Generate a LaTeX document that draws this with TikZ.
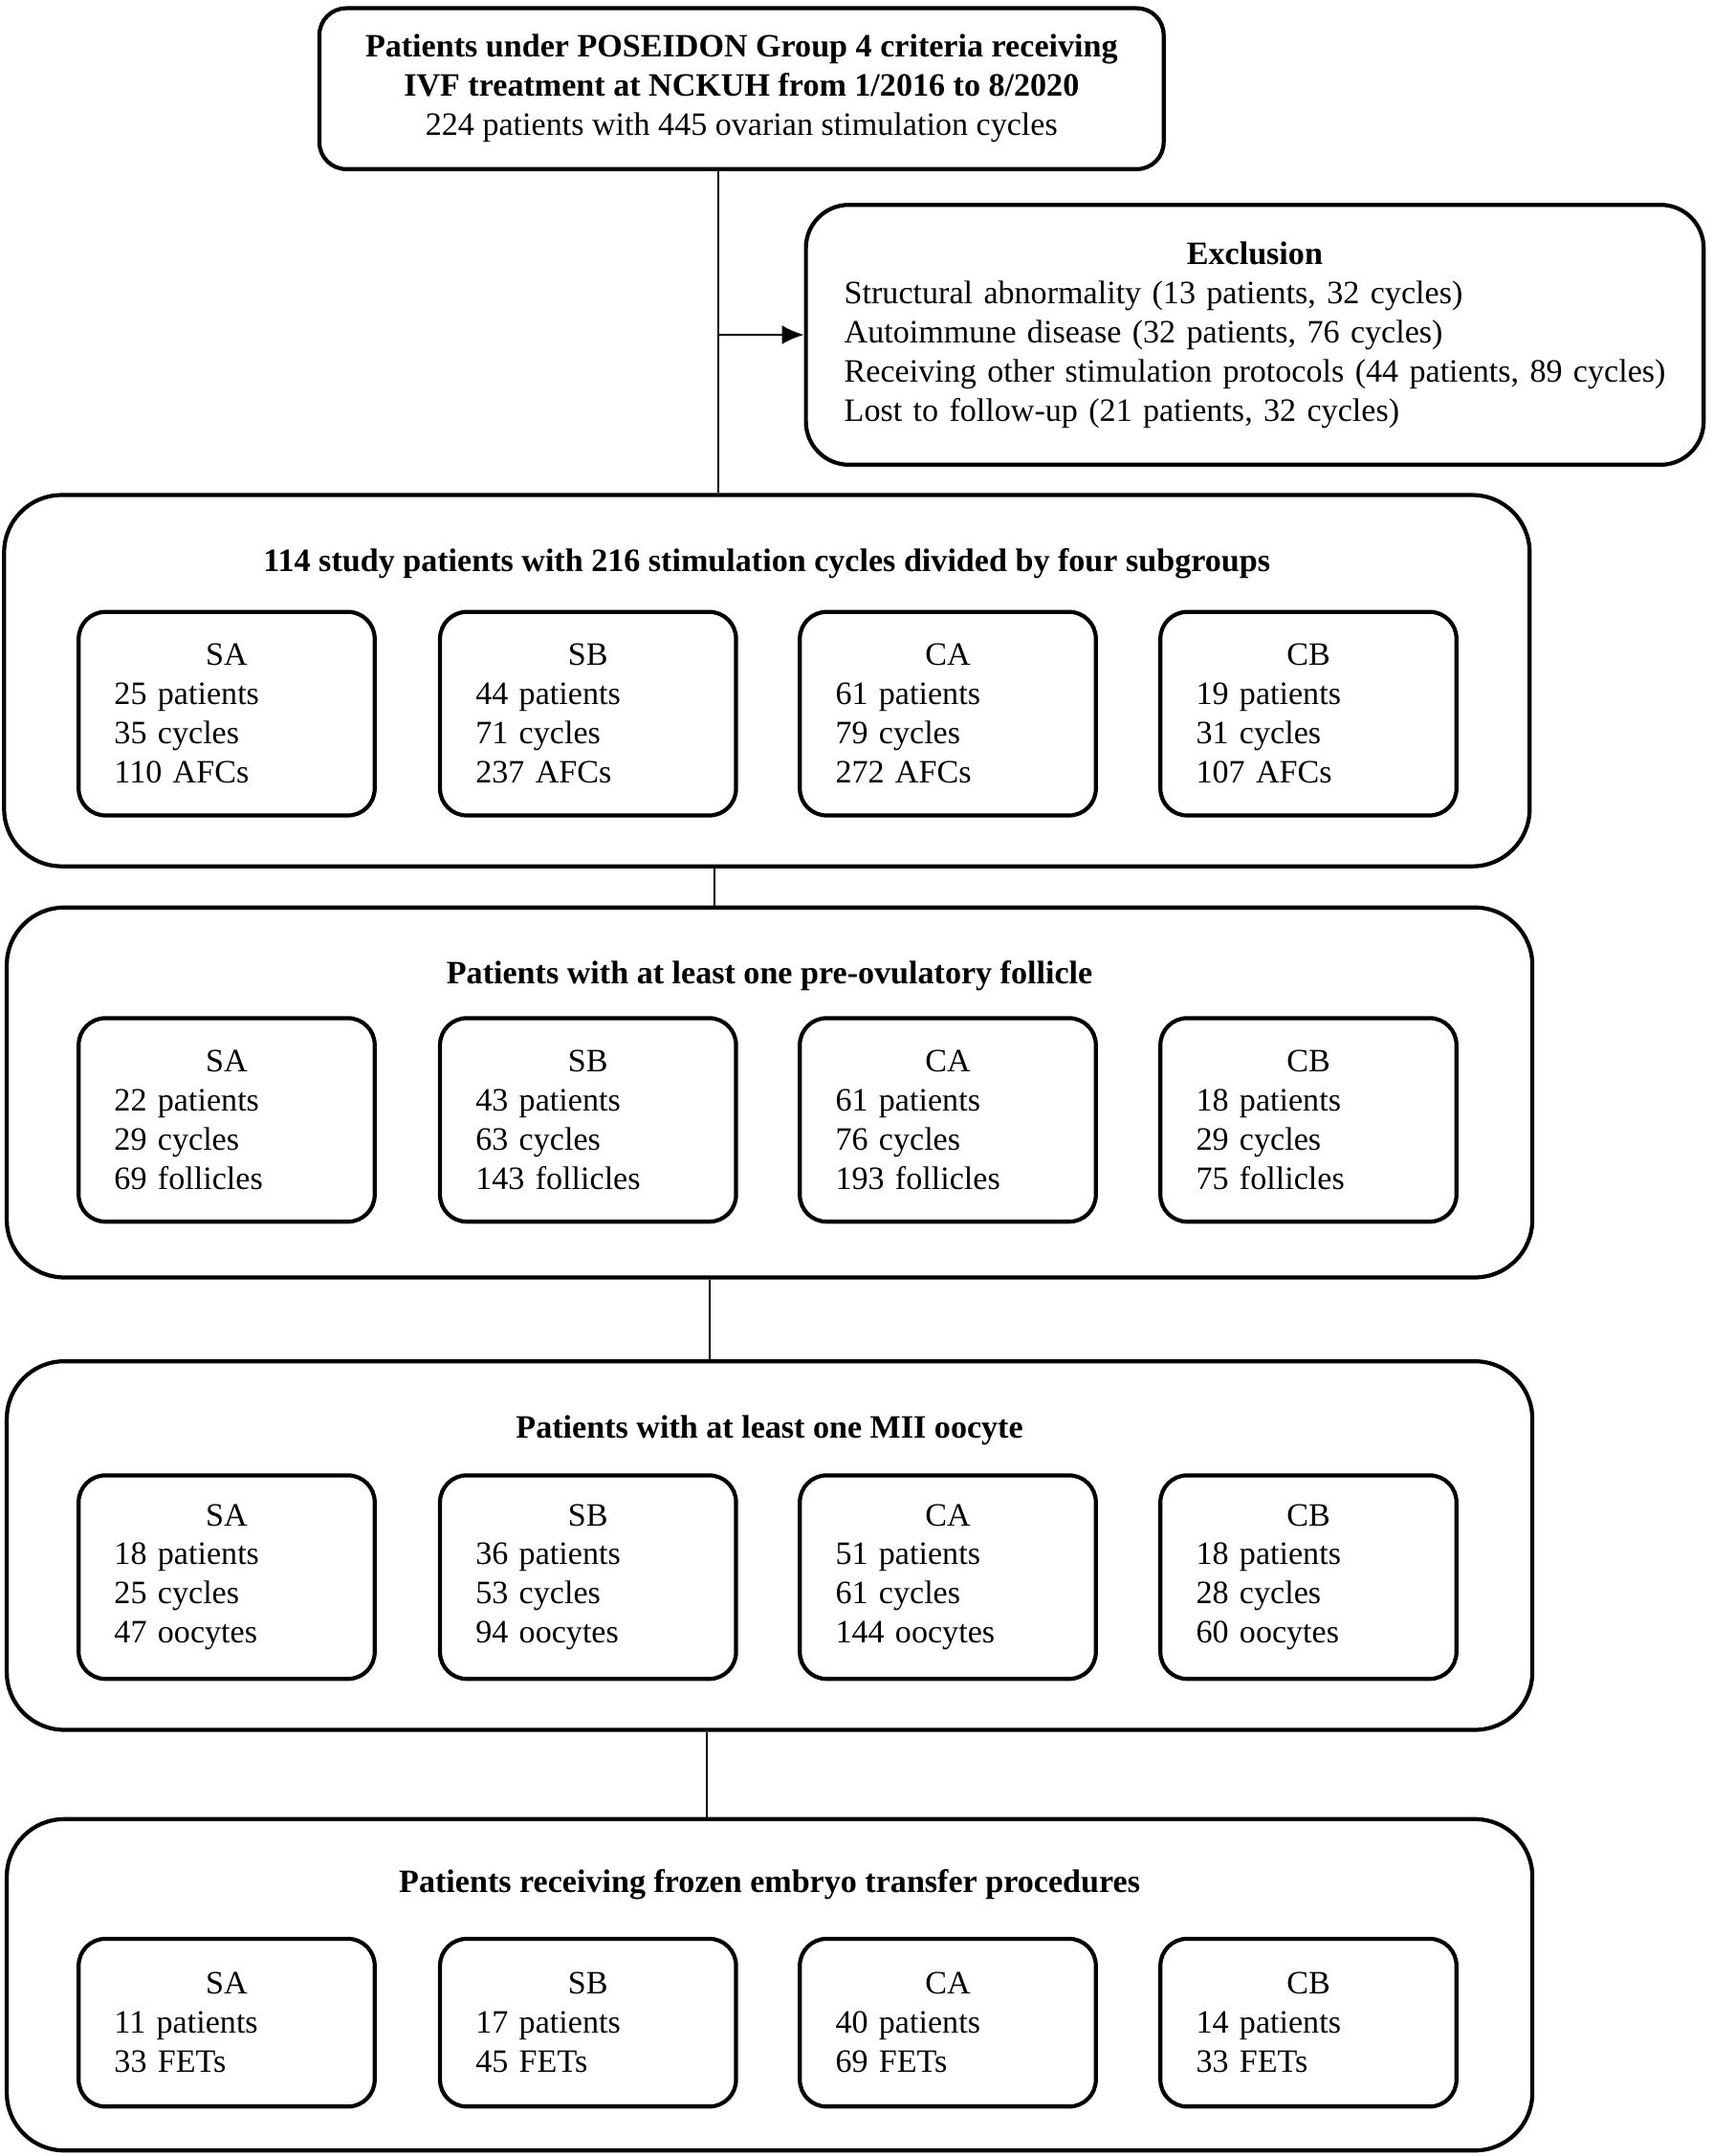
\documentclass[tikz,border=0pt]{standalone}
\usepackage{fontspec}
\setmainfont{Liberation Serif}
\usetikzlibrary{arrows.meta}

\newcommand{\boxfont}{\fontsize{9.7pt}{11.65pt}\selectfont}

\tikzset{
  every node/.style={font=\boxfont},
  entry/.style={draw,line width=1.2pt,rounded corners=0.28cm,minimum width=8.827cm,minimum height=1.682cm,align=center,inner sep=0pt},
  excl/.style={draw,line width=1.2pt,rounded corners=0.45cm,minimum width=9.386cm,minimum height=2.717cm,text width=8.584cm,align=left,inner sep=0pt},
  stage/.style={draw,line width=1.2pt,rounded corners=0.6cm,minimum width=15.95cm,inner sep=0pt},
  group/.style={draw,line width=1.2pt,rounded corners=0.28cm,minimum width=3.095cm,minimum height=2.128cm,text width=2.35cm,align=left,inner sep=0pt},
  head/.style={font=\boxfont\bfseries},
  link/.style={line width=0.6pt},
}

\begin{document}
\begin{tikzpicture}
\useasboundingbox (0,0) rectangle (17.91,-22.54);

% entry and exclusion
\node[entry] (pool) at (7.753,-0.927) {\textbf{Patients under POSEIDON Group 4 criteria receiving}\\\textbf{IVF treatment at NCKUH from 1/2016 to 8/2020}\\224 patients with 445 ovarian stimulation cycles};
\node[excl] (out) at (13.119,-3.500) {\hfill\textbf{Exclusion}\hfill\null\\\mbox{Structural abnormality (13 patients, 32 cycles)}\\\mbox{Autoimmune disease (32 patients, 76 cycles)}\\\mbox{Receiving other stimulation protocols (44 patients, 89 cycles)}\\\mbox{Lost to follow-up (21 patients, 32 cycles)}};

% stages
\node[stage,minimum height=3.881cm] (study) at (8.018,-7.116) {};
\node[stage,minimum height=3.867cm] (pof) at (8.046,-11.421) {};
\node[stage,minimum height=3.853cm] (mii) at (8.046,-16.158) {};
\node[stage,minimum height=3.464cm] (fet) at (8.046,-20.750) {};

\node[head] (studyhead) at ([yshift=-0.74cm]study.north) {114 study patients with 216 stimulation cycles divided by four subgroups};
\node[head] (pofhead) at ([yshift=-0.74cm]pof.north) {Patients with at least one pre-ovulatory follicle};
\node[head] (miihead) at ([yshift=-0.74cm]mii.north) {Patients with at least one MII oocyte};
\node[head] (fethead) at ([yshift=-0.71cm]fet.north) {Patients receiving frozen embryo transfer procedures};

% subgroups: study
\node[group] (studySA) at (2.37,-7.461) {\hfill SA\hfill\null\\25 patients\\35 cycles\\110 AFCs};
\node[group] (studySB) at (6.148,-7.461) {\hfill SB\hfill\null\\44 patients\\71 cycles\\237 AFCs};
\node[group] (studyCA) at (9.91,-7.461) {\hfill CA\hfill\null\\61 patients\\79 cycles\\272 AFCs};
\node[group] (studyCB) at (13.68,-7.461) {\hfill CB\hfill\null\\19 patients\\31 cycles\\107 AFCs};

% subgroups: follicle
\node[group] (pofSA) at (2.37,-11.708) {\hfill SA\hfill\null\\22 patients\\29 cycles\\69 follicles};
\node[group] (pofSB) at (6.148,-11.708) {\hfill SB\hfill\null\\43 patients\\63 cycles\\143 follicles};
\node[group] (pofCA) at (9.91,-11.708) {\hfill CA\hfill\null\\61 patients\\76 cycles\\193 follicles};
\node[group] (pofCB) at (13.68,-11.708) {\hfill CB\hfill\null\\18 patients\\29 cycles\\75 follicles};

% subgroups: oocyte
\node[group] (miiSA) at (2.37,-16.488) {\hfill SA\hfill\null\\18 patients\\25 cycles\\47 oocytes};
\node[group] (miiSB) at (6.148,-16.488) {\hfill SB\hfill\null\\36 patients\\53 cycles\\94 oocytes};
\node[group] (miiCA) at (9.91,-16.488) {\hfill CA\hfill\null\\51 patients\\61 cycles\\144 oocytes};
\node[group] (miiCB) at (13.68,-16.488) {\hfill CB\hfill\null\\18 patients\\28 cycles\\60 oocytes};

% subgroups: transfer
\node[group,minimum height=1.754cm] (fetSA) at (2.37,-21.146) {\hfill SA\hfill\null\\11 patients\\33 FETs};
\node[group,minimum height=1.754cm] (fetSB) at (6.148,-21.146) {\hfill SB\hfill\null\\17 patients\\45 FETs};
\node[group,minimum height=1.754cm] (fetCA) at (9.91,-21.146) {\hfill CA\hfill\null\\40 patients\\69 FETs};
\node[group,minimum height=1.754cm] (fetCB) at (13.68,-21.146) {\hfill CB\hfill\null\\14 patients\\33 FETs};

% connectors
\coordinate (t1) at (7.509,0);
\coordinate (t2) at (7.466,0);
\coordinate (t3) at (7.423,0);
\coordinate (t4) at (7.394,0);
\draw[link] (pool.south -| t1) -- (study.north -| t1);
\draw[link,-{Latex[length=0.23cm,width=0.2cm]}] (out.west -| t1) -- (out.west);
\draw[link] (study.south -| t2) -- (pof.north -| t2);
\draw[link] (pof.south -| t3) -- (mii.north -| t3);
\draw[link] (mii.south -| t4) -- (fet.north -| t4);

\end{tikzpicture}
\end{document}
